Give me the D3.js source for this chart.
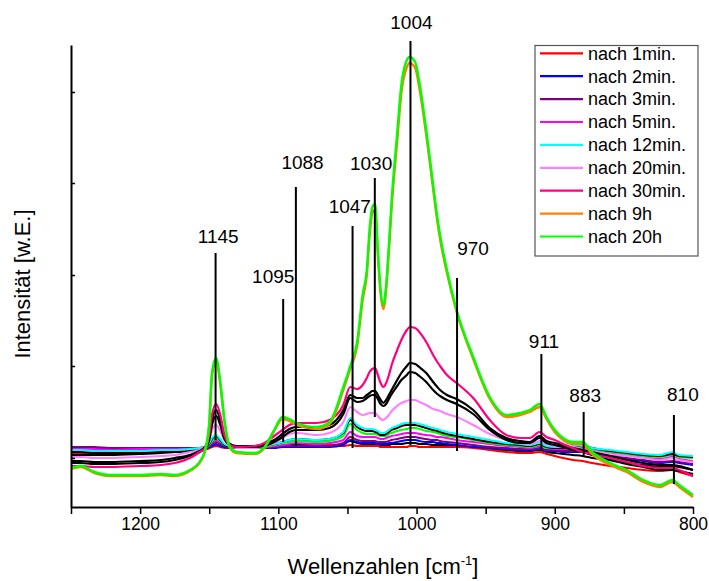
<!DOCTYPE html>
<html><head><meta charset="utf-8">
<script src="https://cdn.jsdelivr.net/npm/d3@7"></script>
<style>
html,body{margin:0;padding:0;background:#fff;}
svg{display:block;font-family:"Liberation Sans",Arial,sans-serif;}
</style></head>
<body><svg id="c" width="709" height="581"></svg>
<script>
// ---------------- DATA ----------------
const wavenumbers = [1250,1243,1233,1222,1200,1185,1175,1164,1157,1153,1150,1148,1145,1142,1139,1135,1130,1117,1110,1103,1097,1092,1087,1072,1063,1053,1048,1043,1039,1036,1034,1032,1030,1028,1026,1024,1022,1020,1018,1014,1011,1007,1005,1001,998,993,988,985,983,978,971,959,947,935,925,918,911,906,900,894,887,880,873,860,848,836,824,815,810,800];

const nach1min  = [54,54,54,55,56,57,57,58,58,58,59,60,61,60,59,59,59,60,60,61,61,61,61,62,62,61,62,61,61,61,61,61,61,61,60,60,60,60,60,60,60,60,61,61,60,60,60,60,60,60,60,59,57,55,54,54,55,53,51,49,47,46,44,41,39,37,36,37,35,31];
const nach2min  = [59,59,59,58,58,58,58,58,58,59,60,61,63,61,60,59,59,59,59,59,60,60,60,60,60,62,67,65,64,64,64,64,64,63,63,63,63,64,64,65,66,67,67,67,66,65,65,64,64,63,62,60,59,58,57,57,58,56,56,55,55,55,53,51,48,46,44,45,44,42];
const nach3min  = [60,60,60,59,59,59,59,59,59,60,61,63,65,63,61,60,59,59,59,60,61,61,61,61,61,64,70,67,66,66,66,66,66,65,65,65,65,66,67,68,69,70,70,70,69,68,67,67,66,65,64,62,60,59,58,58,59,57,57,56,56,56,54,52,49,47,45,46,45,43];
const nach5min  = [58,58,58,57,58,58,58,58,59,60,62,65,67,65,62,60,59,59,60,61,62,63,64,63,64,67,75,71,70,70,70,70,70,69,68,68,69,70,71,72,73,74,74,74,73,72,71,70,70,69,67,65,63,61,60,59,61,59,58,58,59,60,57,54,52,50,48,50,48,46];
const nach12min = [57,57,56,56,56,57,57,58,59,60,64,69,72,68,63,61,60,60,61,63,65,67,68,67,68,75,89,82,79,78,78,78,77,76,74,74,75,77,79,81,83,84,84,84,83,81,79,78,77,75,73,70,67,64,63,62,64,61,60,60,61,62,59,57,55,53,52,55,52,51];
const nach20min = [50,50,49,49,50,51,52,55,57,60,67,77,82,76,67,61,59,59,61,64,69,73,74,72,74,85,100,95,92,93,94,94,94,91,88,87,89,92,96,101,104,106,107,107,105,102,98,97,96,93,90,82,73,67,64,63,66,63,61,60,60,58,56,53,51,49,47,49,47,45];
const nach30min = [41,41,40,40,41,42,44,49,55,59,72,92,103,92,72,62,60,61,64,71,77,82,84,84,87,102,120,118,122,129,135,138,139,132,124,120,124,132,142,157,167,177,180,179,175,165,152,145,141,132,124,109,87,72,69,69,75,70,67,63,59,55,53,49,45,41,39,39,37,31];
const nach9h    = [38,40,34,31,31,32,31,36,44,56,82,131,146,123,86,59,54,53,59,76,88,86,82,78,83,117,138,161,207,232,271,294,297,252,213,198,217,256,300,366,414,440,444,439,419,372,318,286,268,234,195,148,108,90,92,95,100,88,75,67,63,63,53,42,35,25,20,25,20,10];
const nach20h   = [39,41,35,32,32,33,32,37,45,57,84,134,149,125,87,60,55,54,60,77,90,88,84,80,85,120,141,165,212,237,277,300,303,257,217,202,222,262,307,374,422,447,450,445,425,377,322,290,272,237,197,150,110,92,94,97,103,90,77,69,65,65,55,44,37,27,22,27,22,12];
// unlabelled spectra (drawn black / green, not in legend)
const extraA = [46,46,45,45,46,47,49,52,56,60,70,87,97,87,71,63,61,61,63,67,73,78,80,80,82,97,112,109,109,112,114,116,116,112,107,104,107,112,117,127,134,141,144,143,140,134,125,120,117,112,108,97,79,69,66,65,71,66,64,62,59,57,55,51,47,44,42,42,41,37];
const extraB = [44,44,43,43,44,45,47,51,55,59,67,82,91,82,68,62,60,60,61,65,70,75,77,77,79,93,109,105,106,109,111,112,112,108,103,101,103,108,113,121,127,132,135,134,131,125,117,113,111,107,103,93,77,67,64,64,69,64,62,60,57,55,52,47,43,40,37,37,36,33];
const extraC = [55,55,54,54,54,55,55,56,57,59,63,68,71,67,62,60,59,60,61,63,65,67,68,67,68,74,87,80,77,76,76,76,75,74,72,72,73,75,77,79,81,82,82,82,81,79,77,76,75,73,71,68,65,63,62,61,63,60,59,59,60,62,59,56,54,52,51,53,51,50];
const extraD = [52,52,52,52,53,54,55,56,57,58,59,61,62,61,60,59,59,60,60,61,61,62,62,62,62,63,66,64,63,63,63,63,63,62,62,62,62,62,63,63,63,64,64,64,63,63,62,62,62,62,61,60,58,57,56,56,57,55,54,53,52,51,49,47,44,42,40,41,40,37];
const extraE = [56,56,55,55,55,56,56,57,58,59,62,66,69,66,62,60,59,59,60,62,64,65,66,65,66,71,83,77,74,73,73,73,73,72,71,71,71,73,74,76,77,78,79,79,78,76,75,74,73,71,70,67,64,62,61,60,62,59,59,59,60,61,58,55,53,51,50,52,50,49];

const legendNames = ["nach 1min.","nach 2min.","nach 3min.","nach 5min.","nach 12min.","nach 20min.","nach 30min.","nach 9h","nach 20h"];

const peakLabels    = ["1145","1095","1088","1047","1030","1004","970","911","883","810"];
const peakPositions = [1145.4,1096.5,1087.3,1046.3,1030.2,1004.4,970.7,909.7,879.1,813.8];
const peakTops      = [254,208,320,281,329,466,229,153,95,92];
const peakBottoms   = [67,65,61,59,90,62,56,56,50,23];
const labelPositions= [1143.5,1103.7,1082.5,1048.3,1032.9,1003.7,959.1,907.8,878,807.3];
const labelHeights  = [264,224,338,294,337,478,252,159,105,106];

const xTicks = [1250,1200,1150,1100,1050,1000,950,900,850,800];
const xTickLabels = ["","1200","","1100","","1000","","900","","800"];
const yTicks = [49,141,232,324,415];

// ---------------- CHART ----------------
const colors = ["#ff0000","#0000ff","#800080","#ff00ff","#00ffff","#ff80ff","#ff0080","#ff8000","#00ff00"];

const svg = d3.select("#c");
const x = d3.scaleLinear().domain([1250,800]).range([71,693]);
const y = d3.scaleLinear().domain([0,462]).range([507,45]);

const line = d3.line()
  .x((d,i)=>x(wavenumbers[i]))
  .y(d=>y(d))
  .curve(d3.curveMonotoneX);

// draw order (back to front)
const drawList = [
  {v:extraD, c:"#000000", w:2},
  {v:nach1min, c:colors[0], w:2},
  {v:nach2min, c:colors[1], w:2},
  {v:nach3min, c:colors[2], w:2},
  {v:nach5min, c:colors[3], w:2},
  {v:extraE, c:"#00ff00", w:2},
  {v:extraC, c:"#000000", w:2},
  {v:nach12min, c:colors[4], w:2},
  {v:nach20min, c:colors[5], w:2.2},
  {v:extraB, c:"#000000", w:2.2},
  {v:extraA, c:"#000000", w:2.2},
  {v:nach30min, c:colors[6], w:2.2},
  {v:nach9h, c:colors[7], w:2.4},
  {v:nach20h, c:colors[8], w:2.4}
];

const plot = svg.append("g");
plot.selectAll("path.s").data(drawList).join("path")
  .attr("class","s")
  .attr("d",d=>line(d.v))
  .attr("fill","none")
  .attr("stroke",d=>d.c)
  .attr("stroke-width",d=>d.w)
  .attr("stroke-linejoin","round");

// peak marker lines + labels
const peaks = peakLabels.map((t,i)=>({t, p:peakPositions[i], top:peakTops[i], bot:peakBottoms[i], lp:labelPositions[i], lh:labelHeights[i]}));
svg.append("g").selectAll("line").data(peaks).join("line")
  .attr("x1",d=>x(d.p)).attr("x2",d=>x(d.p))
  .attr("y1",d=>y(d.top)).attr("y2",d=>y(d.bot))
  .attr("stroke","#000").attr("stroke-width",2);
svg.append("g").selectAll("text").data(peaks).join("text")
  .attr("x",d=>x(d.lp)).attr("y",d=>y(d.lh))
  .attr("text-anchor","middle")
  .attr("font-size",19)
  .attr("fill","#000")
  .text(d=>d.t);

// axes
const xAxis = svg.append("g").attr("transform","translate(0,507)")
  .call(d3.axisBottom(x).tickValues(xTicks).tickFormat((d,i)=>xTickLabels[i]).tickSize(7).tickSizeOuter(0).tickPadding(4));
xAxis.select(".domain").attr("stroke-width",2);
xAxis.selectAll(".tick line").attr("stroke-width",1.5);
xAxis.selectAll(".tick text").attr("font-size",17.5).attr("font-family","Liberation Sans, Arial, sans-serif").attr("fill","#000");

const yAxis = svg.append("g").attr("transform","translate(71,0)")
  .call(d3.axisRight(y).tickValues(yTicks).tickFormat("").tickSize(4).tickSizeOuter(0));
yAxis.select(".domain").attr("stroke-width",2);
yAxis.selectAll(".tick line").attr("stroke-width",1.5);

// axis titles
const xt = svg.append("text").attr("x",383).attr("y",574).attr("text-anchor","middle").attr("font-size",22).attr("fill","#000");
xt.append("tspan").text("Wellenzahlen [cm");
xt.append("tspan").attr("dy",-9).attr("font-size",13).text("-1");
xt.append("tspan").attr("dy",9).text("]");

svg.append("text").attr("transform","translate(30,284) rotate(-90)")
  .attr("text-anchor","middle").attr("font-size",22).attr("fill","#000")
  .text("Intensität [w.E.]");

// legend
const lg = svg.append("g");
lg.append("rect").attr("x",535).attr("y",45.5).attr("width",163).attr("height",210.5)
  .attr("fill","#fff").attr("stroke","#555").attr("stroke-width",1.2);
const items = lg.selectAll("g.it").data(legendNames).join("g").attr("class","it")
  .attr("transform",(d,i)=>`translate(0,${53.3+i*22.9})`);
items.append("line").attr("x1",540).attr("x2",583).attr("y1",0).attr("y2",0)
  .attr("stroke",(d,i)=>colors[i]).attr("stroke-width",2.2);
items.append("text").attr("x",588).attr("y",0).attr("dy","0.35em")
  .attr("font-size",18).attr("fill","#000").text(d=>d);
</script>
</body></html>
